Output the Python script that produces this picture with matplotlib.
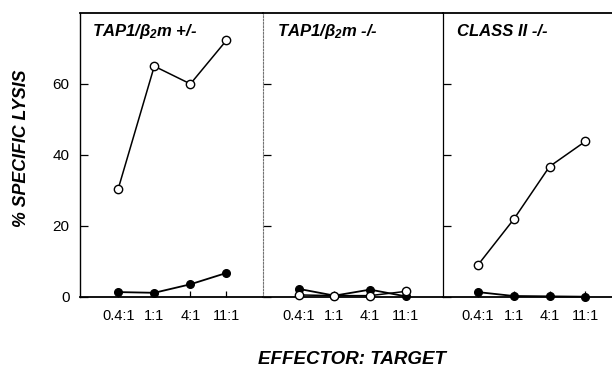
import matplotlib
matplotlib.use("Agg")
import matplotlib.pyplot as plt

plt.rcParams['font.family'] = ['Liberation Sans', 'DejaVu Sans']
plt.rcParams['mathtext.fontset'] = 'custom'
plt.rcParams['mathtext.rm'] = 'Liberation Sans:bold:italic'
plt.rcParams['mathtext.it'] = 'Liberation Sans:bold:italic'
plt.rcParams['mathtext.bf'] = 'Liberation Sans:bold:italic'

ratios = ["0.4:1", "1:1", "4:1", "11:1"]
panel_titles = [r"TAP1/$\beta_2$m +/-", r"TAP1/$\beta_2$m -/-", "CLASS II -/-"]
open_vals = [
    [30.4, 65.0, 60.0, 72.3],
    [0.5, 0.3, 0.3, 1.5],
    [8.9, 21.8, 36.7, 43.8],
]
filled_vals = [
    [1.3, 1.1, 3.5, 6.7],
    [2.2, 0.3, 2.0, 0.1],
    [1.3, 0.2, 0.1, 0.0],
]
yticks = [0, 20, 40, 60]

W, H = 612, 368
fig = plt.figure(figsize=(W / 100, H / 100), dpi=100)

bottom_px, top_px = 296.7, 13.0
panels_px = [(80.3, 263.3), (263.3, 442.7), (442.7, 623.0)]
xlims = [(-1.05, 4.02), (-1.0, 4.04), (-0.98, 4.05)]
title_x = [0.064, 0.076, 0.078]

for i, (l, r) in enumerate(panels_px):
    ax = fig.add_axes([l / W, 1 - bottom_px / H, (r - l) / W, (bottom_px - top_px) / H])
    x = list(range(len(ratios)))
    ax.plot(x, filled_vals[i], '-o', color='black', lw=1.3, ms=5.5,
            mfc='black', mec='black', zorder=3, clip_on=False)
    ax.plot(x, open_vals[i], '-o', color='black', lw=1.1, ms=6,
            mfc='white', mec='black', mew=1.0, zorder=4, clip_on=False)
    ax.set_xlim(*xlims[i])
    ax.set_ylim(0, 80)
    ax.set_xticks(x)
    ax.set_xticklabels(ratios, fontsize=10.5)
    ax.set_yticks(yticks)
    ax.tick_params(axis='both', direction='in', width=0.9, color='black')
    ax.tick_params(axis='x', length=4, pad=8.5)
    ax.tick_params(axis='y', length=6, pad=7.7, labelsize=11)
    if i > 0:
        ax.tick_params(axis='y', labelleft=False)
    for s in ['top', 'bottom']:
        ax.spines[s].set_linewidth(1.3)
        ax.spines[s].set_color('black')
    ax.spines['right'].set_visible(False)
    if i == 0:
        ax.spines['left'].set_linewidth(1.0)
    elif i == 1:
        ax.spines['left'].set_color('0.45')
        ax.spines['left'].set_linewidth(0.8)
        ax.spines['left'].set_linestyle((0, (1.5, 1.5)))
    else:
        ax.spines['left'].set_linewidth(0.9)
    ax.text(title_x[i], 0.936, panel_titles[i], transform=ax.transAxes,
            fontsize=12, fontweight='bold', fontstyle='italic',
            ha='left', va='center')

fig.text(22 / W, 1 - 148 / H, "% SPECIFIC LYSIS", rotation=90,
         fontsize=12.8, fontweight='bold', fontstyle='italic',
         ha='center', va='center')
fig.text(352 / W, 1 - 359.5 / H, "EFFECTOR: TARGET",
         fontsize=13.5, fontweight='bold', fontstyle='italic',
         ha='center', va='center')

fig.savefig("out.png", dpi=100)
